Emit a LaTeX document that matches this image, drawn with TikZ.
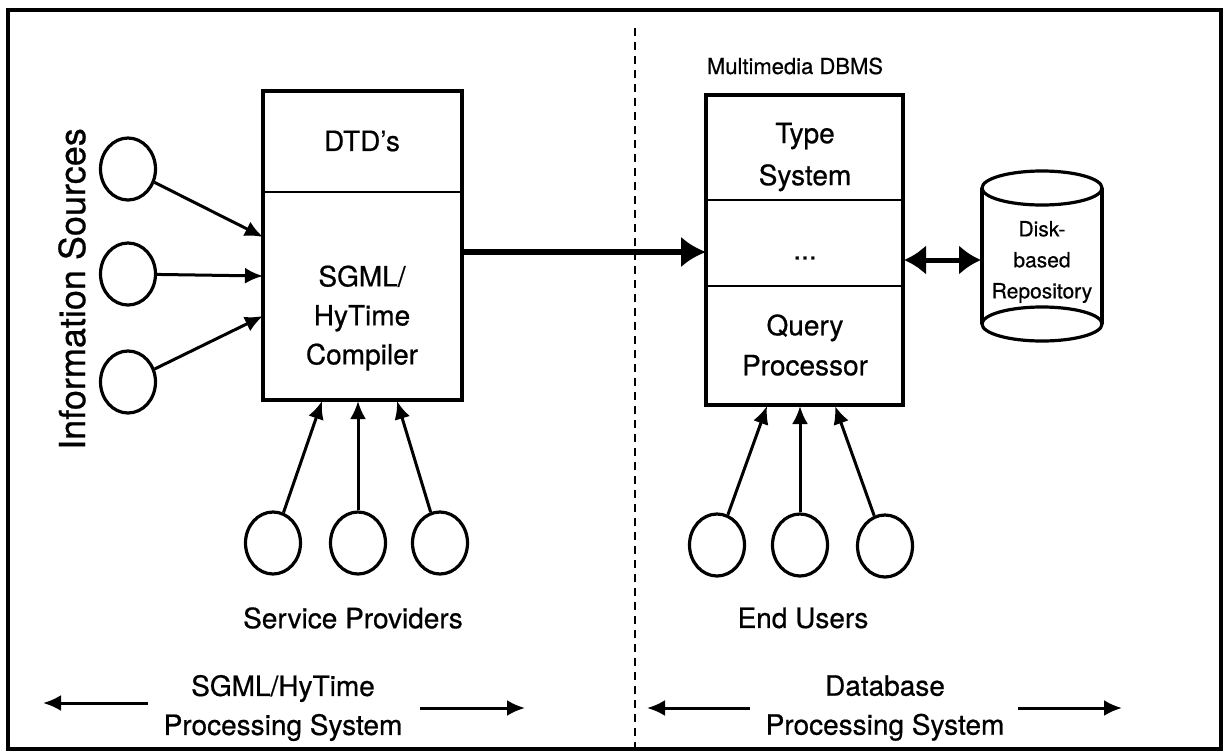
\documentclass[tikz,border=0pt]{standalone}
\usepackage{fontspec}
\setmainfont{TeX Gyre Heros}[FakeBold=0.6]
\usetikzlibrary{arrows.meta,shapes.geometric}
\begin{document}
\begin{tikzpicture}[x=1pt,y=-1pt,
  line width=3.2pt,
  src/.style={ellipse,draw,line width=3.2pt,minimum width=55pt,minimum height=62pt,inner sep=0pt},
  boxtxt/.style={font=\fontsize{28}{40}\selectfont,align=center,inner sep=0pt},
  lbl/.style={font=\fontsize{28}{39}\selectfont,align=center,inner sep=0pt},
  arr/.style={-{Latex[length=18pt,width=16pt]},line width=3pt},
  bigarr/.style={-{Latex[length=25pt,width=31pt]},line width=5.5pt},
  dblarr/.style={{Latex[length=22pt,width=30pt]}-{Latex[length=22pt,width=30pt]},line width=5pt},
  divline/.style={line width=2pt},
  sep/.style={line width=2.2pt,dash pattern=on 8pt off 6pt}]
\useasboundingbox (0,0) rectangle (1225,755);
% frame
\draw[line width=3.4pt] (8,10) rectangle (1221,749);
% separator
\coordinate (dtop) at (635,28);
\coordinate (dbot) at (635,750);
\draw[sep] (dtop) -- (dbot);

% left box
\node[draw,line width=3.4pt,minimum width=199pt,minimum height=309pt,inner sep=0pt] (lbox) at (362.5,245.5) {};
\coordinate (ld1) at (263,192);
\coordinate (ld2) at (462,192);
\draw[divline] (ld1) -- (ld2);
\node[boxtxt] (dtd) at (362,141) {DTD's};
\node[boxtxt,font=\fontsize{28}{39}\selectfont] (comp) at (362,318) {SGML/\\HyTime\\Compiler};

% right box
\node[draw,line width=3.4pt,minimum width=197pt,minimum height=310pt,inner sep=0pt] (rbox) at (804.5,250) {};
\coordinate (rd1) at (706,200);
\coordinate (rd2) at (903,200);
\coordinate (rd3) at (706,286);
\coordinate (rd4) at (903,286);
\draw[divline] (rd1) -- (rd2);
\draw[divline] (rd3) -- (rd4);
\node[font=\fontsize{22}{26}\selectfont,inner sep=0pt] (mmdb) at (795,66) {Multimedia DBMS};
\node[boxtxt,font=\fontsize{28}{42}\selectfont] (types) at (805,157) {Type\\System};
\node[boxtxt] (dots) at (805,258) {...};
\node[boxtxt] (query) at (805,345) {Query\\Processor};

% information sources
\node[src] (is1) at (128,169) {};
\node[src] (is2) at (128,274) {};
\node[src] (is3) at (128,382) {};
\node[rotate=90,font=\fontsize{36}{40}\selectfont,inner sep=0pt] (istxt) at (72,289) {Information Sources};
\coordinate (i1) at (263,237);
\coordinate (i2) at (263,276);
\coordinate (i3) at (263,316);
\draw[arr] (is1) -- (i1);
\draw[arr] (is2) -- (i2);
\draw[arr] (is3) -- (i3);

% service providers
\node[src] (sp1) at (273,543) {};
\node[src] (sp2) at (358,543) {};
\node[src] (sp3) at (440,543) {};
\coordinate (s1) at (322,401);
\coordinate (s2) at (358,401);
\coordinate (s3) at (397,401);
\draw[arr] (sp1) -- (s1);
\draw[arr] (sp2) -- (s2);
\draw[arr] (sp3) -- (s3);
\node[lbl] (sptxt) at (353,618) {Service Providers};

% end users
\node[src] (eu1) at (717,545) {};
\node[src] (eu2) at (800,545) {};
\node[src] (eu3) at (885,546) {};
\coordinate (e1) at (767,406);
\coordinate (e2) at (800,406);
\coordinate (e3) at (835,406);
\draw[arr] (eu1) -- (e1);
\draw[arr] (eu2) -- (e2);
\draw[arr] (eu3) -- (e3);
\node[lbl] (eutxt) at (803,618) {End Users};

% main arrow
\coordinate (m1) at (463,252);
\coordinate (m2) at (706,252);
\draw[bigarr] (m1) -- (m2);

% repository cylinder
\draw[line width=3.2pt] (982,188) -- (982,324);
\draw[line width=3.2pt] (1102,188) -- (1102,324);
\draw[line width=3.2pt] (1042,188) ellipse [x radius=60, y radius=17];
\draw[line width=3.2pt] (1042,324) ellipse [x radius=60, y radius=17];
\node[font=\fontsize{21}{31}\selectfont,align=center,inner sep=0pt] (repo) at (1042,262) {Disk-\\based\\Repository};
\coordinate (c1) at (904,260);
\coordinate (c2) at (981,260);
\draw[dblarr] (c1) -- (c2);

% bottom labels
\node[lbl] (sgmlps) at (283,708) {SGML/HyTime\\Processing System};
\node[lbl] (dbps) at (885,708) {Database\\Processing System};
\coordinate (b1s) at (148,703);
\coordinate (b1e) at (43,703);
\coordinate (b2s) at (420,708);
\coordinate (b2e) at (525,708);
\coordinate (b3s) at (750,708);
\coordinate (b3e) at (647,708);
\coordinate (b4s) at (1018,708);
\coordinate (b4e) at (1122,708);
\draw[arr] (b1s) -- (b1e);
\draw[arr] (b2s) -- (b2e);
\draw[arr] (b3s) -- (b3e);
\draw[arr] (b4s) -- (b4e);
\end{tikzpicture}
\end{document}
